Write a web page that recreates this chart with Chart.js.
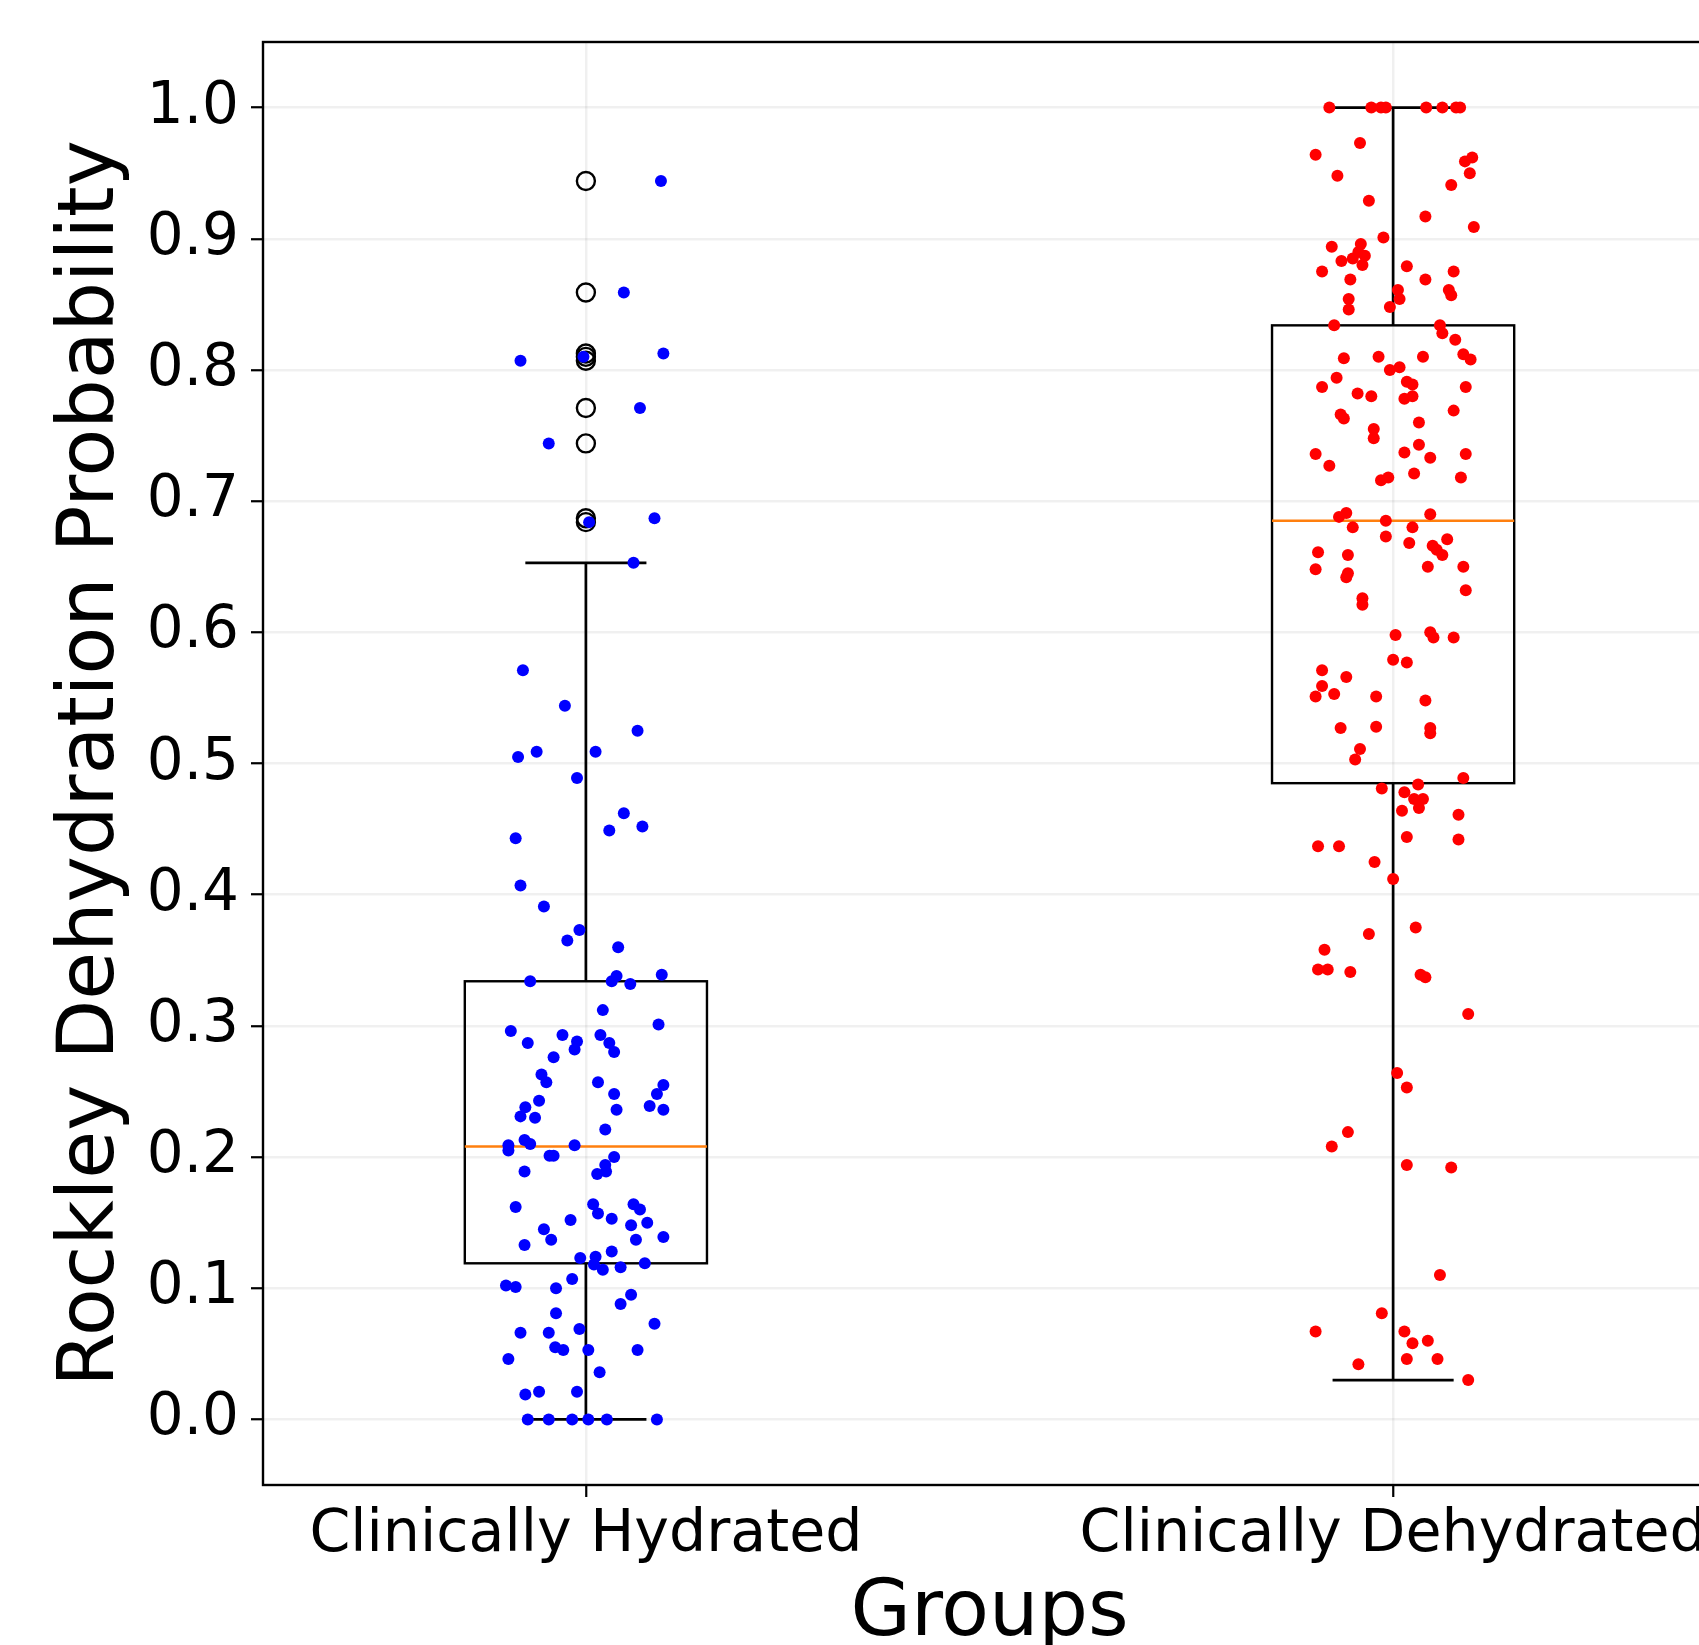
<!DOCTYPE html>
<html>
<head>
<meta charset="utf-8">
<script src="https://cdn.jsdelivr.net/npm/chart.js@4"></script>
<style>
  html, body { margin: 0; padding: 0; background: #fff; overflow: hidden; }
  canvas { display: block; }
</style>
</head>
<body>
<canvas id="myChart" width="1740" height="1645"></canvas>
<script>
// categories and their positions on the x axis
let groups = ["Clinically Hydrated", "Clinically Dehydrated"];
let groupPositions = [1, 2];

// hydrated group: probability values and the horizontal jitter of each dot
let hydratedValues = [
  0.944, 0.859, 0.807, 0.8125, 0.810, 0.771, 0.744, 0.687, 0.684, 0.653,
  0.571, 0.544, 0.525, 0.505, 0.509, 0.509, 0.489, 0.462, 0.449, 0.452,
  0.443, 0.407, 0.391, 0.373, 0.365, 0.360, 0.339, 0.338, 0.334, 0.334,
  0.332, 0.312, 0.301, 0.296, 0.287, 0.293, 0.288, 0.282, 0.293, 0.287,
  0.280, 0.276, 0.263, 0.257, 0.257, 0.248, 0.255, 0.248, 0.243, 0.238,
  0.231, 0.230, 0.236, 0.239, 0.236, 0.221, 0.209, 0.205, 0.213, 0.210,
  0.209, 0.201, 0.201, 0.200, 0.194, 0.187, 0.189, 0.189, 0.162, 0.164,
  0.157, 0.164, 0.160, 0.153, 0.152, 0.148, 0.150, 0.145, 0.137, 0.133,
  0.137, 0.139, 0.128, 0.123, 0.124, 0.118, 0.114, 0.116, 0.119, 0.107,
  0.102, 0.101, 0.100, 0.095, 0.088, 0.081, 0.073, 0.066, 0.066, 0.069,
  0.055, 0.053, 0.053, 0.053, 0.046, 0.036, 0.019, 0.021, 0.021,
  0.0, 0.0, 0.0, 0.0, 0.0, 0.0
];
let hydratedJitter = [
  0.093, 0.047, -0.081, 0.096, -0.003, 0.067, -0.046, 0.085, 0.004, 0.059,
  -0.078, -0.026, 0.064, -0.084, -0.061, 0.012, -0.011, 0.047, 0.029, 0.070,
  -0.087, -0.081, -0.052, -0.008, -0.023, 0.040, 0.094, 0.038, 0.032, -0.069,
  0.055, 0.021, 0.090, -0.093, -0.072, -0.029, -0.011, -0.014, 0.018, 0.029,
  0.035, -0.040, -0.055, -0.049, 0.015, 0.035, 0.096, 0.088, -0.058, -0.075,
  -0.081, -0.063, 0.038, 0.079, 0.096, 0.024, -0.096, -0.096, -0.076, -0.069,
  -0.014, -0.045, -0.040, 0.035, 0.024, 0.014, 0.025, -0.076, -0.087, 0.009,
  0.015, 0.059, 0.067, 0.032, -0.019, 0.056, 0.076, -0.052, -0.043, -0.076,
  0.062, 0.096, 0.032, -0.007, 0.012, 0.010, 0.021, 0.043, 0.073, -0.017,
  -0.099, -0.087, -0.037, 0.056, 0.043, -0.037, 0.085, -0.081, -0.046, -0.008,
  -0.038, -0.028, 0.003, 0.064, -0.096, 0.017, -0.075, -0.058, -0.011,
  -0.072, -0.046, -0.017, 0.003, 0.026, 0.088
];

// dehydrated group
let dehydratedValues = [
  1.0, 1.0, 1.0, 1.0, 1.0, 1.0, 1.0, 1.0,
  0.973, 0.964, 0.962, 0.959, 0.950, 0.948, 0.941, 0.929, 0.917, 0.909,
  0.901, 0.894, 0.896, 0.890, 0.887, 0.885, 0.883, 0.880, 0.875, 0.879,
  0.875, 0.869, 0.869, 0.861, 0.861, 0.857, 0.854, 0.854, 0.846, 0.848,
  0.834, 0.834, 0.828, 0.823, 0.809, 0.810, 0.810, 0.812, 0.808, 0.800,
  0.802, 0.794, 0.787, 0.791, 0.789, 0.787, 0.782, 0.780, 0.778, 0.780,
  0.769, 0.766, 0.763, 0.760, 0.755, 0.748, 0.743, 0.736, 0.737, 0.736,
  0.733, 0.727, 0.721, 0.718, 0.716, 0.718, 0.691, 0.688, 0.690, 0.685,
  0.680, 0.680, 0.673, 0.671, 0.668, 0.666, 0.663, 0.659, 0.661, 0.659,
  0.648, 0.650, 0.650, 0.645, 0.642, 0.632, 0.626, 0.621, 0.598, 0.600,
  0.596, 0.596, 0.579, 0.577, 0.571, 0.566, 0.559, 0.551, 0.553, 0.551,
  0.548, 0.527, 0.528, 0.527, 0.523, 0.511, 0.503, 0.489, 0.481, 0.484,
  0.478, 0.473, 0.473, 0.466, 0.464, 0.461, 0.444, 0.442, 0.437, 0.437,
  0.425, 0.412, 0.375, 0.370, 0.358, 0.343, 0.343, 0.341, 0.339, 0.337,
  0.309, 0.264, 0.253, 0.219, 0.208, 0.194, 0.192, 0.110, 0.081, 0.067,
  0.067, 0.058, 0.060, 0.042, 0.046, 0.046, 0.030
];
let dehydratedJitter = [
  -0.079, -0.027, -0.015, -0.009, 0.041, 0.061, 0.078, 0.083,
  -0.041, -0.096, 0.098, 0.089, 0.095, -0.069, 0.072, -0.030, 0.040, 0.100,
  -0.012, -0.076, -0.040, -0.043, -0.035, -0.050, -0.064, -0.038, -0.088, 0.017,
  0.075, -0.053, 0.040, 0.006, 0.069, 0.072, -0.055, 0.008, -0.055, -0.004,
  -0.073, 0.058, 0.061, 0.077, -0.061, -0.018, 0.037, 0.087, 0.096, -0.004,
  0.008, -0.070, -0.088, 0.017, 0.024, 0.090, -0.044, -0.027, 0.014, 0.024,
  0.075, -0.065, -0.061, 0.032, -0.024, -0.024, 0.032, -0.096, 0.014, 0.090,
  0.046, -0.079, 0.026, 0.084, -0.015, -0.006, -0.058, -0.067, 0.046, -0.009,
  -0.050, 0.024, -0.009, 0.067, 0.020, 0.049, 0.054, 0.061, -0.093, -0.056,
  -0.096, 0.043, 0.087, -0.056, -0.058, 0.090, -0.038, -0.038, 0.003, 0.046,
  0.050, 0.075, 0.000, 0.017, -0.088, -0.058, -0.088, -0.096, -0.073, -0.021,
  0.040, -0.065, -0.021, 0.046, 0.046, -0.041, -0.047, 0.087, -0.014, 0.031,
  0.014, 0.026, 0.037, 0.032, 0.011, 0.081, 0.017, 0.081, -0.093, -0.067,
  -0.023, 0.000, 0.028, -0.030, -0.085, -0.093, -0.081, -0.053, 0.034, 0.040,
  0.093, 0.005, 0.017, -0.056, -0.076, 0.017, 0.072, 0.058, -0.014, -0.096,
  0.014, 0.024, 0.043, -0.043, 0.017, 0.055, 0.093
];

// box plot statistics (hydrated, dehydrated)
let boxQ1 = [0.119, 0.485];
let boxMedian = [0.208, 0.685];
let boxQ3 = [0.334, 0.834];
let whiskerLow = [0.0, 0.030];
let whiskerHigh = [0.653, 1.0];

let yTicks = [0.0, 0.1, 0.2, 0.3, 0.4, 0.5, 0.6, 0.7, 0.8, 0.9, 1.0];

const ctx = document.getElementById("myChart");

let toPoints = (values, jitter, pos) =>
  values.map((v, i) => ({ x: pos + jitter[i], y: v }));

// outliers: values above the upper whisker, drawn as open circles at the group position
let fliers = hydratedValues
  .filter((v) => v > whiskerHigh[0])
  .map((v) => ({ x: groupPositions[0], y: v }));

const boxPlugin = {
  id: "boxes",
  beforeDatasetsDraw(chart) {
    const c = chart.ctx;
    const xs = chart.scales.x;
    const ys = chart.scales.y;
    c.save();
    groupPositions.forEach((pos, i) => {
      const l = xs.getPixelForValue(pos - 0.15);
      const r = xs.getPixelForValue(pos + 0.15);
      const cl = xs.getPixelForValue(pos - 0.075);
      const cr = xs.getPixelForValue(pos + 0.075);
      const mx = xs.getPixelForValue(pos);
      const q1 = ys.getPixelForValue(boxQ1[i]);
      const q3 = ys.getPixelForValue(boxQ3[i]);
      const med = ys.getPixelForValue(boxMedian[i]);
      const lo = ys.getPixelForValue(whiskerLow[i]);
      const hi = ys.getPixelForValue(whiskerHigh[i]);
      c.strokeStyle = "#000";
      c.lineWidth = 2.7;
      c.beginPath();
      c.moveTo(mx, q1); c.lineTo(mx, lo);
      c.moveTo(mx, q3); c.lineTo(mx, hi);
      c.moveTo(cl, lo); c.lineTo(cr, lo);
      c.moveTo(cl, hi); c.lineTo(cr, hi);
      c.stroke();
      c.lineWidth = 2.4;
      c.strokeRect(l, q3, r - l, q1 - q3);
      c.strokeStyle = "#ff7f0e";
      c.lineWidth = 2.5;
      c.beginPath();
      c.moveTo(l, med); c.lineTo(r, med);
      c.stroke();
    });
    c.restore();
  },
  afterDraw(chart) {
    const a = chart.chartArea;
    const c = chart.ctx;
    c.save();
    c.strokeStyle = "#000";
    c.lineWidth = 2.4;
    c.strokeRect(a.left, a.top, a.right - a.left, a.bottom - a.top);
    c.restore();
  },
};

new Chart(ctx, {
  type: "scatter",
  data: {
    datasets: [
      {
        label: groups[0],
        data: toPoints(hydratedValues, hydratedJitter, groupPositions[0]),
        backgroundColor: "#0000ff",
        borderWidth: 0,
        pointRadius: 6,
        order: 0,
      },
      {
        label: groups[1],
        data: toPoints(dehydratedValues, dehydratedJitter, groupPositions[1]),
        backgroundColor: "#ff0000",
        borderWidth: 0,
        pointRadius: 6,
        order: 0,
      },
      {
        label: "outliers",
        data: fliers,
        backgroundColor: "rgba(0,0,0,0)",
        borderColor: "#000",
        borderWidth: 2.4,
        pointRadius: 9,
        order: 1,
      },
    ],
  },
  options: {
    responsive: false,
    animation: false,
    events: [],
    layout: { padding: { top: 42, right: 24, bottom: 0, left: 0 } },
    plugins: { legend: { display: false }, tooltip: { enabled: false } },
    scales: {
      x: {
        type: "linear",
        min: 0.6,
        max: 2.4,
        afterFit: (scale) => {
          scale.height = 160;
          scale.paddingLeft = 0;
          scale.paddingRight = 0;
        },
        afterBuildTicks: (scale) => {
          scale.ticks = groupPositions.map((v) => ({ value: v }));
        },
        border: { display: false },
        grid: {
          color: "rgba(0,0,0,0.06)",
          lineWidth: 2.5,
          tickColor: "#000",
          tickWidth: 2.2,
          tickLength: 12,
        },
        ticks: {
          autoSkip: false,
          maxRotation: 0,
          padding: 4,
          color: "#000",
          font: { family: "DejaVu Sans", size: 58.6 },
          callback: (v) => groups[groupPositions.indexOf(v)],
        },
        title: {
          display: true,
          text: "Groups",
          color: "#000",
          padding: { top: 0, bottom: 0 },
          font: { family: "DejaVu Sans", size: 78, lineHeight: 0.78 },
        },
      },
      y: {
        min: -0.05,
        max: 1.05,
        afterFit: (scale) => {
          scale.width = 263;
          scale.paddingTop = 0;
          scale.paddingBottom = 0;
        },
        afterBuildTicks: (scale) => {
          scale.ticks = yTicks.map((v) => ({ value: v }));
        },
        border: { display: false },
        grid: {
          color: "rgba(0,0,0,0.06)",
          lineWidth: 2.5,
          tickColor: "#000",
          tickWidth: 2.2,
          tickLength: 12,
        },
        ticks: {
          padding: 12,
          color: "#000",
          font: { family: "DejaVu Sans", size: 58 },
          callback: (v) => v.toFixed(1),
        },
        title: {
          display: true,
          text: "Rockley Dehydration Probability",
          color: "#000",
          padding: { top: 46, bottom: 0 },
          font: { family: "DejaVu Sans", size: 78, lineHeight: 1.2 },
        },
      },
    },
  },
  plugins: [boxPlugin],
});
</script>
</body>
</html>
